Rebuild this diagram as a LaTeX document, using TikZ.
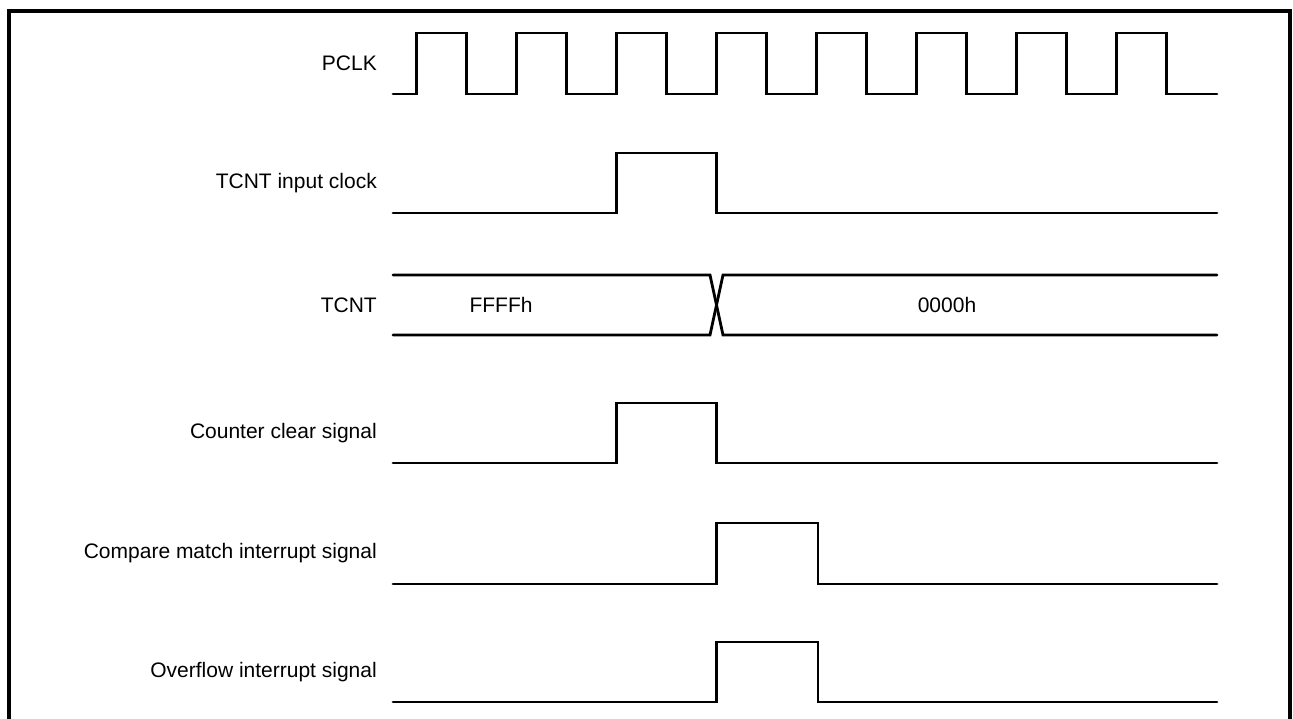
\documentclass[tikz,border=0pt]{standalone}
\usepackage{fontspec}
\setmainfont{Liberation Sans}
\usepackage{xcolor}
\usepackage{tikz}
\usetikzlibrary{positioning}

\begin{document}
\begin{tikzpicture}[x=1pt, y=-1pt, line cap=round,
        wave/.style={line width=2.8pt},
        frm/.style={line width=3.2pt},
        sig/.style={anchor=east, inner sep=0pt, font=\fontsize{21}{25}\selectfont},
        val/.style={inner sep=0pt, font=\fontsize{21}{25}\selectfont}]
        \useasboundingbox (0,0) rectangle (1293,719);

        % frame
        \draw[frm] (9,725) -- (9,11) -- (1290,11) -- (1290,725);

        % signal names
        \node[sig] (pclk)  at (377,63.5) {PCLK};
        \node[sig] (inclk) at (377,183)  {TCNT input clock};
        \node[sig] (tcnt)  at (377,305)  {TCNT};
        \node[sig] (clr)   at (377,433)  {Counter clear signal};
        \node[sig] (cmi)   at (377,553)  {Compare match interrupt signal};
        \node[sig] (ovi)   at (377,672)  {Overflow interrupt signal};

        % PCLK
        \draw[wave] (393,94)
            \foreach \k in {0,...,7} {
                -- (416.7+100*\k,94) -- (416.7+100*\k,33)
                -- (466.7+100*\k,33) -- (466.7+100*\k,94)}
            -- (1217,94);

        % TCNT input clock
        \draw[wave] (393,213) -- (616.7,213) -- (616.7,153) -- (716.5,153)
            -- (716.5,213) -- (1217,213);

        % TCNT
        \draw[wave] (393,275) -- (710,275) -- (723,335) -- (1217,335);
        \draw[wave] (393,335) -- (710,335) -- (723,275) -- (1217,275);
        \node[val] (ffff) at (501,305) {FFFFh};
        \node[val] (zero) at (947,305) {0000h};

        % Counter clear signal
        \draw[wave] (393,463) -- (616.7,463) -- (616.7,403) -- (716.5,403)
            -- (716.5,463) -- (1217,463);

        % Compare match interrupt signal
        \draw[wave] (393,584) -- (716.5,584) -- (716.5,523) -- (818,523)
            -- (818,584) -- (1217,584);

        % Overflow interrupt signal
        \draw[wave] (393,702) -- (716.5,702) -- (716.5,642) -- (818,642)
            -- (818,702) -- (1217,702);

    \end{tikzpicture}
\end{document}
